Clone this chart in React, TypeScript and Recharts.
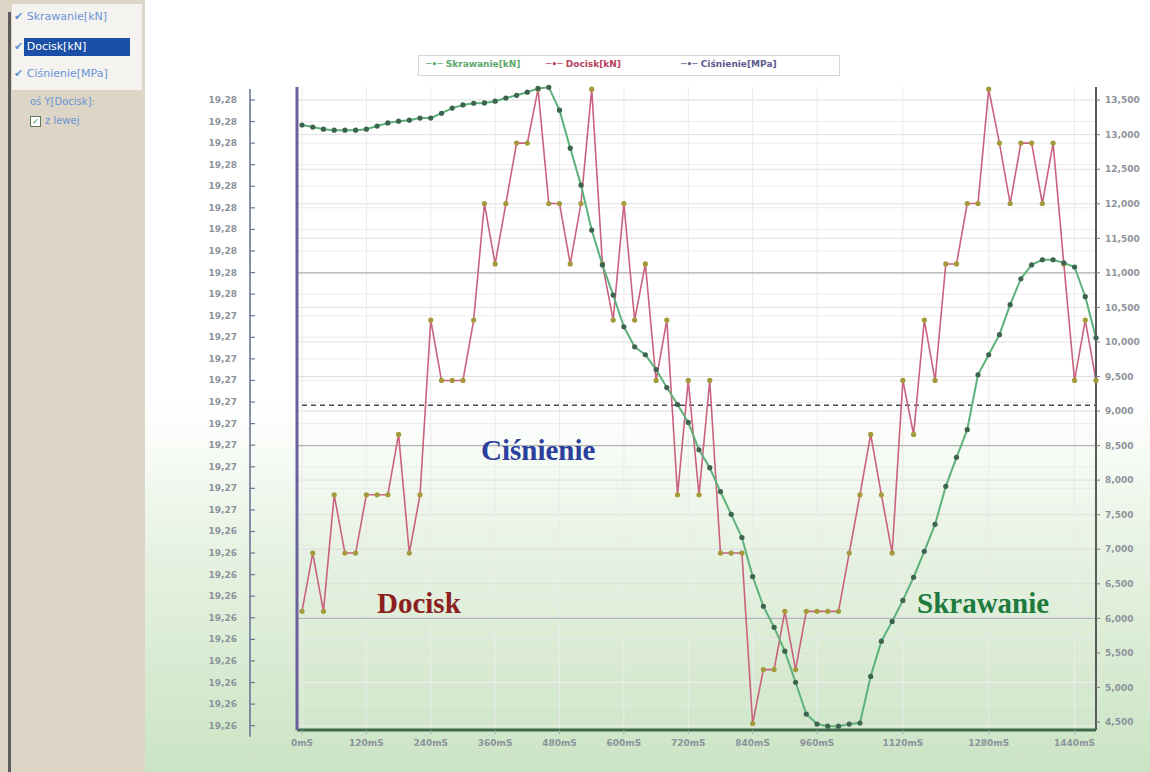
import React from 'react';
import { LineChart, Line, XAxis, YAxis, CartesianGrid, ReferenceLine } from 'recharts';

// czas próbki [mS]
const TIME_MS = [
  0, 20, 40, 60, 80, 100, 120, 140, 160, 180, 200, 220, 240, 260, 280, 300, 320, 340, 360, 380,
  400, 420, 440, 460, 480, 500, 520, 540, 560, 580, 600, 620, 640, 660, 680, 700, 720, 740, 760, 780,
  800, 820, 840, 860, 880, 900, 920, 940, 960, 980, 1000, 1020, 1040, 1060, 1080, 1100, 1120, 1140, 1160, 1180,
  1200, 1220, 1240, 1260, 1280, 1300, 1320, 1340, 1360, 1380, 1400, 1420, 1440, 1460, 1480,
];

const SKRAWANIE_KN = [
  13140, 13110, 13080, 13065, 13065, 13065, 13080, 13125, 13170, 13195, 13210, 13240, 13240, 13310, 13385, 13430, 13455, 13460, 13485, 13530,
  13570, 13615, 13670, 13685, 13355, 12805, 12270, 11620, 11115, 10680, 10220, 9930, 9815, 9600, 9340, 9095, 8835, 8440, 8180, 7835,
  7505, 7170, 6605, 6175, 5870, 5525, 5075, 4615, 4470, 4440, 4440, 4470, 4485, 5160, 5670, 5955, 6260, 6595, 6970, 7360,
  7910, 8330, 8730, 9525, 9815, 10105, 10540, 10915, 11115, 11190, 11190, 11145, 11085, 10655, 10060,
];

const DOCISK_KN = [
  19.2603, 19.263, 19.2603, 19.2657, 19.263, 19.263, 19.2657, 19.2657, 19.2657, 19.2685, 19.263, 19.2657, 19.2738, 19.271, 19.271, 19.271, 19.2738, 19.2792, 19.2764, 19.2792,
  19.282, 19.282, 19.2845, 19.2792, 19.2792, 19.2764, 19.2792, 19.2845, 19.2764, 19.2738, 19.2792, 19.2738, 19.2764, 19.271, 19.2738, 19.2657, 19.271, 19.2657, 19.271, 19.263,
  19.263, 19.263, 19.2551, 19.2576, 19.2576, 19.2603, 19.2576, 19.2603, 19.2603, 19.2603, 19.2603, 19.263, 19.2657, 19.2685, 19.2657, 19.263, 19.271, 19.2685, 19.2738, 19.271,
  19.2764, 19.2764, 19.2792, 19.2792, 19.2845, 19.282, 19.2792, 19.282, 19.282, 19.2792, 19.282, 19.2764, 19.271, 19.2738, 19.271,
];

const CISNIENIE_MPA = [
  10.1, 10.1, 10.1, 10.1, 10.1, 10.1, 10.1, 10.1, 10.1, 10.1, 10.1, 10.1, 10.1, 10.1, 10.1, 10.1, 10.1, 10.1, 10.1, 10.1,
  10.1, 10.1, 10.1, 10.1, 10.1, 10.1, 10.1, 10.1, 10.1, 10.1, 10.1, 10.1, 10.1, 10.1, 10.1, 10.1, 10.1, 10.1, 10.1, 10.1,
  10.1, 10.1, 10.1, 10.1, 10.1, 10.1, 10.1, 10.1, 10.1, 10.1, 10.1, 10.1, 10.1, 10.1, 10.1, 10.1, 10.1, 10.1, 10.1, 10.1,
  10.1, 10.1, 10.1, 10.1, 10.1, 10.1, 10.1, 10.1, 10.1, 10.1, 10.1, 10.1, 10.1, 10.1, 10.1,
];

const X_TICKS = [0, 120, 240, 360, 480, 600, 720, 840, 960, 1120, 1280, 1440];

const LEFT_TICKS = [
  19.284, 19.283, 19.282, 19.281, 19.28, 19.279, 19.278, 19.277, 19.276, 19.275,
  19.274, 19.273, 19.272, 19.271, 19.27, 19.269, 19.268, 19.267, 19.266, 19.265,
  19.264, 19.263, 19.262, 19.261, 19.26, 19.259, 19.258, 19.257, 19.256, 19.255,
];
const LEFT_TICK_LABELS = [
  '19,28', '19,28', '19,28', '19,28', '19,28', '19,28', '19,28', '19,28', '19,28', '19,28',
  '19,27', '19,27', '19,27', '19,27', '19,27', '19,27', '19,27', '19,27', '19,27', '19,27',
  '19,26', '19,26', '19,26', '19,26', '19,26', '19,26', '19,26', '19,26', '19,26', '19,26',
];

const RIGHT_TICKS = [13500, 13000, 12500, 12000, 11500, 11000, 10500, 10000, 9500, 9000, 8500, 8000, 7500, 7000, 6500, 6000, 5500, 5000, 4500];
const MAJOR_LINES = [11000, 8500, 6000];

const SERIES_NAMES = ['Skrawanie[kN]', 'Docisk[kN]', 'Ciśnienie[MPa]'];

const data = TIME_MS.map((t, i) => ({
  t,
  skrawanie: SKRAWANIE_KN[i],
  docisk: DOCISK_KN[i],
  cisnienie: CISNIENIE_MPA[i],
}));

const tickFont = { fontSize: 9, fill: '#8d939c', fontWeight: 700, fontFamily: 'DejaVu Sans' };

// etykieta lewej osi + kreska na osi pomocniczej (x - 47)
const LeftTick = (props: any) => {
  const { x, y, index } = props;
  return (
    <g>
      <line x1={x - 47} x2={x - 42} y1={y} y2={y} stroke="#6c7696" strokeWidth={1.2} />
      <line x1={x - 47} x2={x - 47} y1={y - 11} y2={y + 11} stroke="#6c7696" strokeWidth={1.6} />
      <text x={x - 60} y={y} dy={3} textAnchor="end" {...tickFont}>{LEFT_TICK_LABELS[index]}</text>
    </g>
  );
};

const GreenDot = (props: any) => {
  const { cx, cy, index } = props;
  if (cx == null || cy == null) return null;
  return <circle key={`g-${index}`} cx={cx} cy={cy} r={2.6} fill="#3e6450" />;
};

const RedDot = (props: any) => {
  const { cx, cy, index } = props;
  if (cx == null || cy == null) return null;
  return <circle key={`r-${index}`} cx={cx} cy={cy} r={2.6} fill="#a39a3c" />;
};

const listItem: React.CSSProperties = {
  position: 'absolute', left: 14, fontSize: 11, fontFamily: 'DejaVu Sans', color: '#6a92d6', whiteSpace: 'nowrap',
};

export default function App() {
  return (
    <div style={{ position: 'absolute', left: 0, top: 0, width: 1150, height: 772, overflow: 'hidden', background: '#fff' }}>
      {/* panel z listą serii */}
      <div style={{ position: 'absolute', left: 0, top: 0, width: 145, height: 772, background: '#ddd6c6' }} />
      <div style={{ position: 'absolute', left: 12, top: 4, width: 130, height: 86, background: '#f4f3f0' }} />
      <div style={{ position: 'absolute', left: 8, top: 12, width: 3, height: 760, background: '#5c5c5c' }} />
      <div style={{ ...listItem, top: 10 }}>✔ {SERIES_NAMES[0]}</div>
      <div style={{ position: 'absolute', left: 24, top: 38, width: 106, height: 18, background: '#1b4ea6' }} />
      <div style={{ ...listItem, top: 40 }}>✔ <span style={{ color: '#fff' }}>{SERIES_NAMES[1]}</span></div>
      <div style={{ ...listItem, top: 67 }}>✔ {SERIES_NAMES[2]}</div>
      <div style={{ ...listItem, left: 30, top: 96, fontSize: 10 }}>oś Y[Docisk]:</div>
      <div style={{ ...listItem, left: 30, top: 115, fontSize: 10 }}>
        <span style={{ display: 'inline-block', width: 9, height: 9, border: '1px solid #5a7a5a', background: '#fff', color: '#2a8a3a', fontSize: 8, lineHeight: '9px', textAlign: 'center', marginRight: 4 }}>✓</span>
        z lewej
      </div>

      {/* tło wykresu */}
      <div style={{ position: 'absolute', left: 145, top: 0, width: 1005, height: 772, background: 'linear-gradient(to bottom, #ffffff 0%, #ffffff 52%, #e6f2e1 72%, #cbe4c4 100%)' }} />

      <div style={{ position: 'absolute', left: 145, top: 0 }}>
        <LineChart width={1005} height={772} data={data} margin={{ top: 87, right: 0, bottom: 0, left: 0 }}>
          <CartesianGrid yAxisId="right" xAxisId="x" vertical={false} stroke="#dedede" horizontalValues={RIGHT_TICKS} />
          <CartesianGrid yAxisId="left" xAxisId="x" stroke="#ebebeb" horizontalValues={LEFT_TICKS} verticalValues={X_TICKS} />
          <XAxis
            xAxisId="x"
            dataKey="t"
            type="number"
            domain={[0, 1480]}
            ticks={X_TICKS}
            interval={0}
            padding={{ left: 5, right: 0 }}
            height={42}
            tickFormatter={(v) => `${v}mS`}
            tick={tickFont}
            tickSize={4}
            tickMargin={6}
            axisLine={{ stroke: '#3d6a4b', strokeWidth: 3 }}
            tickLine={{ stroke: '#9aa' }}
          />
          <YAxis
            yAxisId="left"
            orientation="left"
            width={152}
            type="number"
            domain={[19.2548, 19.2846]}
            ticks={LEFT_TICKS}
            interval={0}
            tickSize={0}
            tickMargin={0}
            tick={<LeftTick />}
            tickLine={false}
            axisLine={{ stroke: '#6b5f9e', strokeWidth: 3 }}
          />
          <YAxis
            yAxisId="right"
            orientation="right"
            width={54}
            type="number"
            domain={[4384, 13690]}
            ticks={RIGHT_TICKS}
            interval={0}
            tickFormatter={(v) => v.toLocaleString('en-US')}
            tick={tickFont}
            tickSize={4}
            tickMargin={5}
            axisLine={{ stroke: '#5a5a5a', strokeWidth: 2 }}
            tickLine={{ stroke: '#777' }}
          />
          <YAxis yAxisId="cis" hide width={0} type="number" domain={[0, 20]} />
          {MAJOR_LINES.map((v) => (
            <ReferenceLine key={v} yAxisId="right" xAxisId="x" y={v} stroke="#b4b4b4" strokeWidth={1.2} />
          ))}
          <Line
            xAxisId="x"
            yAxisId="cis"
            dataKey="cisnienie"
            name={SERIES_NAMES[2]}
            stroke="#4a4a5e"
            strokeWidth={1.5}
            strokeDasharray="5 4"
            dot={false}
            isAnimationActive={false}
          />
          <Line
            xAxisId="x"
            yAxisId="left"
            dataKey="docisk"
            name={SERIES_NAMES[1]}
            stroke="#c9627e"
            strokeWidth={1.6}
            dot={<RedDot />}
            isAnimationActive={false}
          />
          <Line
            xAxisId="x"
            yAxisId="right"
            dataKey="skrawanie"
            name={SERIES_NAMES[0]}
            stroke="#5db27a"
            strokeWidth={2}
            dot={<GreenDot />}
            isAnimationActive={false}
          />
        </LineChart>
      </div>

      {/* legenda */}
      <div style={{ position: 'absolute', left: 418, top: 55, width: 420, height: 19, border: '1px solid #d6d6d6', background: '#fff', fontFamily: 'DejaVu Sans', fontSize: 9, fontWeight: 700 }}>
        <span style={{ position: 'absolute', left: 7, top: 3, color: '#5aa86c' }}>─•─ {SERIES_NAMES[0]}</span>
        <span style={{ position: 'absolute', left: 127, top: 3, color: '#b8405a' }}>─•─ {SERIES_NAMES[1]}</span>
        <span style={{ position: 'absolute', left: 262, top: 3, color: '#5a5a8a' }}>─•─ {SERIES_NAMES[2]}</span>
      </div>

      {/* podpisy */}
      <div style={{ position: 'absolute', left: 481, top: 434, fontFamily: 'Liberation Serif', fontWeight: 700, fontSize: 29, color: '#2b3f9c' }}>Ciśnienie</div>
      <div style={{ position: 'absolute', left: 377, top: 587, fontFamily: 'Liberation Serif', fontWeight: 700, fontSize: 29, color: '#8c2020' }}>Docisk</div>
      <div style={{ position: 'absolute', left: 917, top: 587, fontFamily: 'Liberation Serif', fontWeight: 700, fontSize: 29, color: '#1e7a3e' }}>Skrawanie</div>
    </div>
  );
}
